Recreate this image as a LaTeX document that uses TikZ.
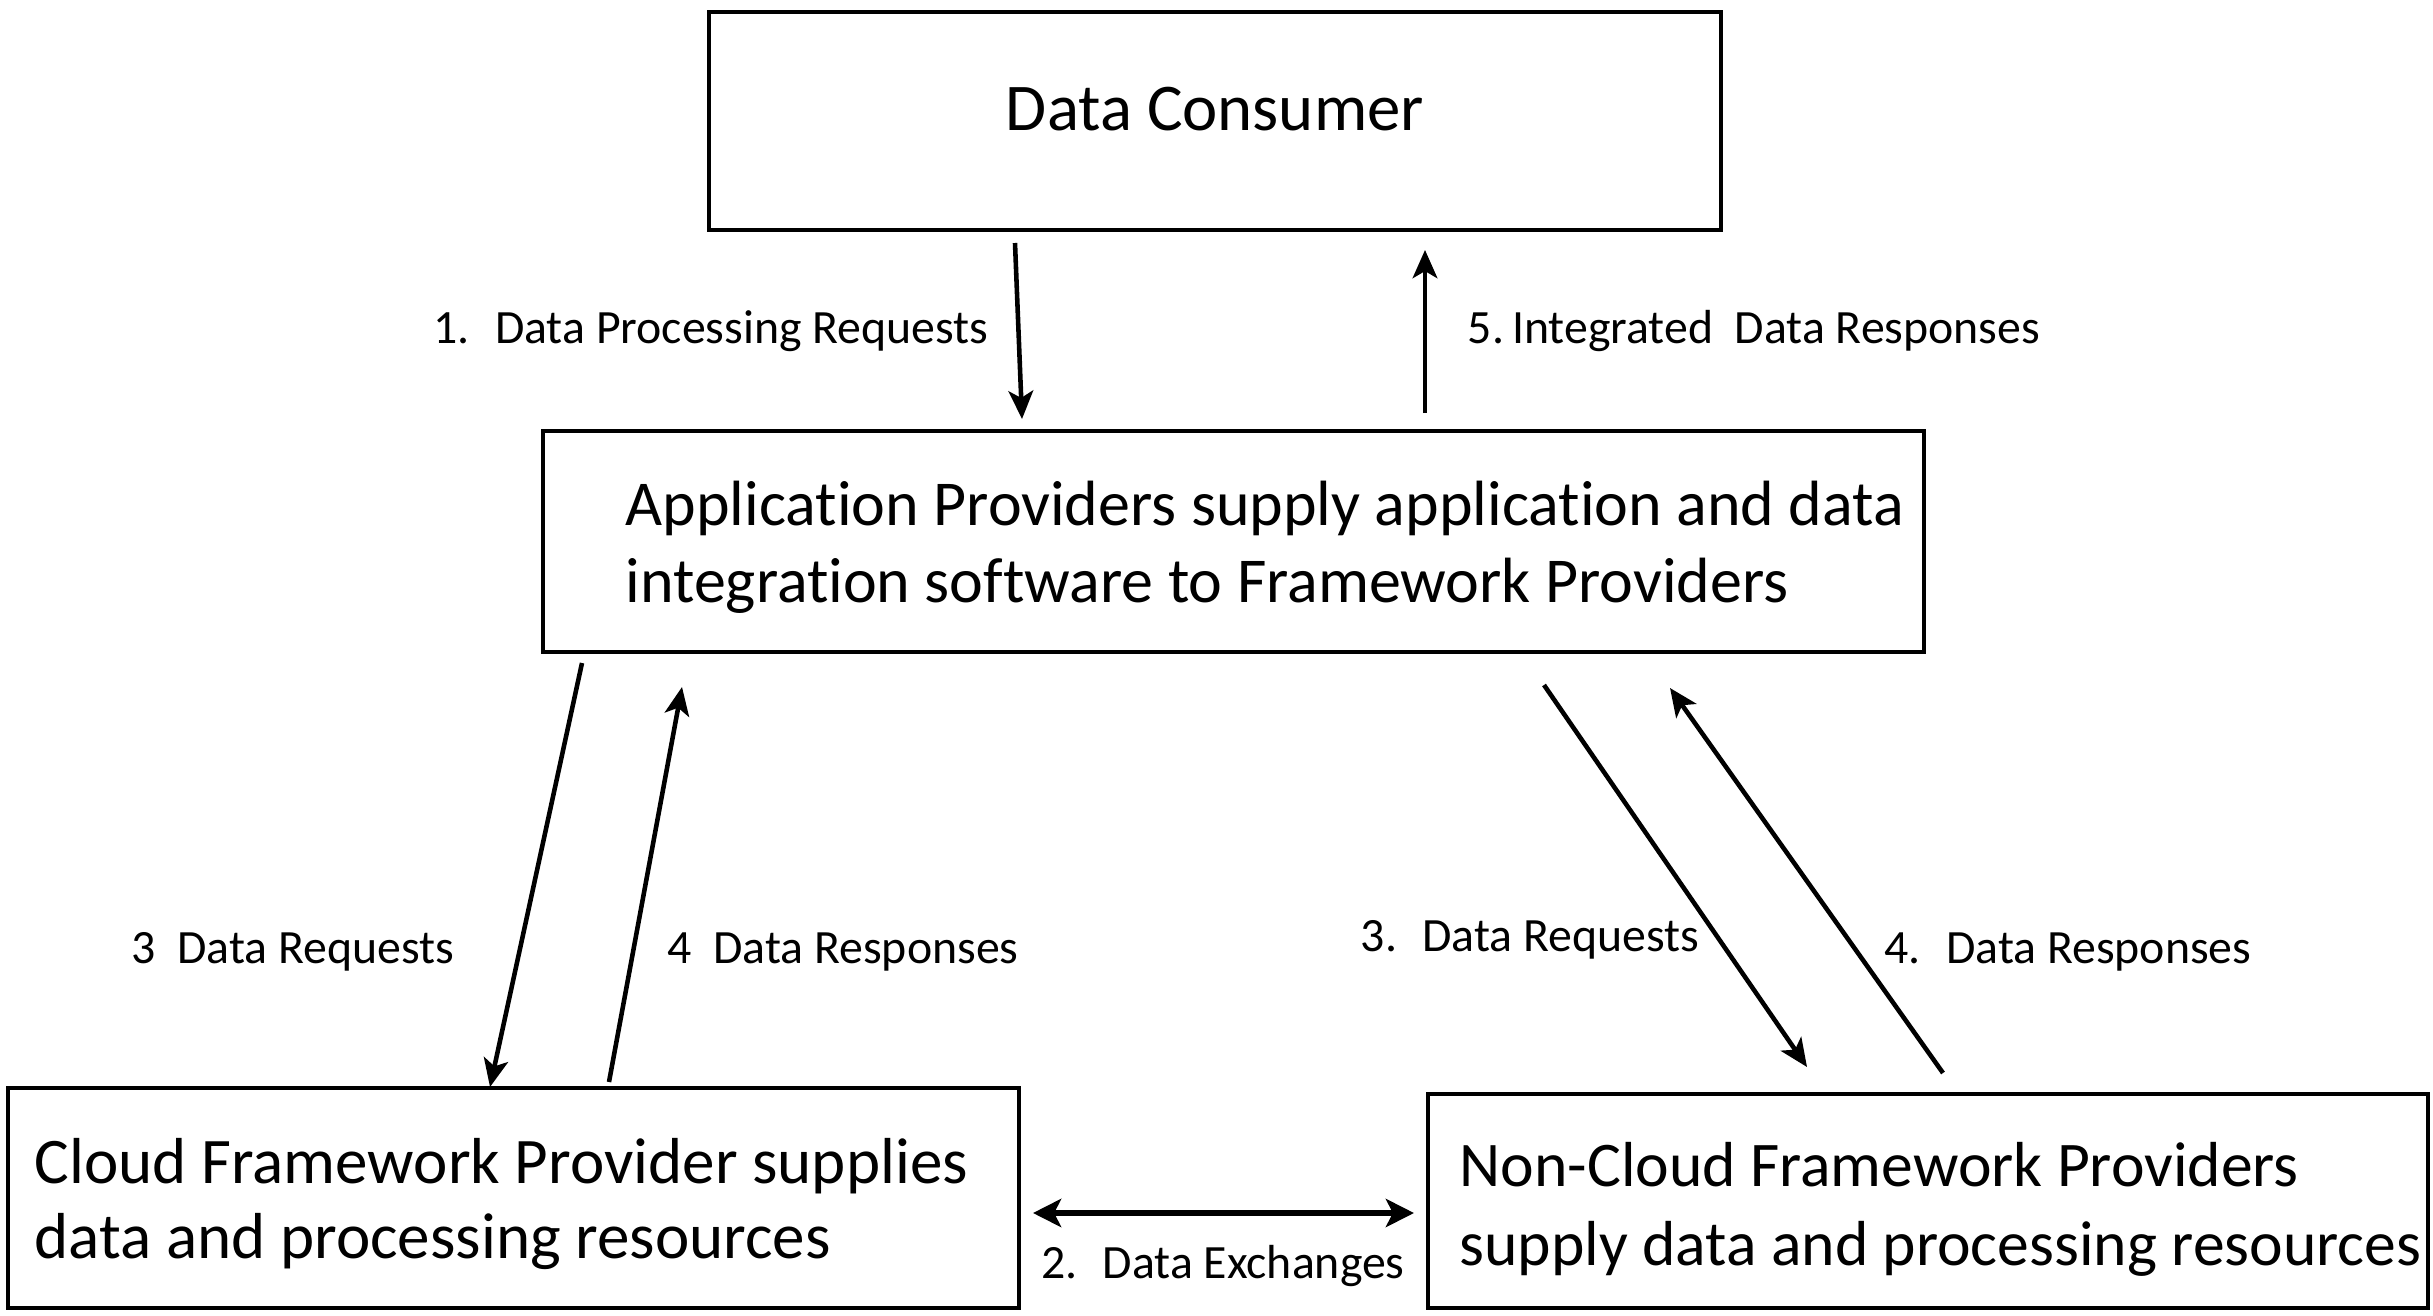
\documentclass[tikz,border=0pt]{standalone}
\usepackage{fontspec}
\setmainfont{Carlito}[RawFeature=-liga]
\usetikzlibrary{arrows.meta}

\begin{document}
\begin{tikzpicture}

    % styles
    \tikzstyle{box} = [draw=black,line width=1.3pt,inner sep=0pt]
    \tikzstyle{boxtxt} = [anchor=west,inner sep=0pt,align=left,
        font=\fontsize{18.2}{21.8}\selectfont]
    \tikzstyle{trans} = [draw=black,line width=1.3pt,
        -{Stealth[length=8pt,width=7pt,inset=2pt]}]
    \tikzstyle{exch} = [trans,line width=1.6pt,
        {Stealth[length=8pt,width=8pt,inset=2pt]}-{Stealth[length=8pt,width=8pt,inset=2pt]}]
    \tikzstyle{lbl} = [anchor=base,inner sep=0pt,font=\fontsize{13.6}{16}\selectfont]

    \useasboundingbox (0,0) rectangle (24.33,13.15);

    % boxes
    \node[box,minimum width=10.12cm,minimum height=2.18cm,text depth=0.25cm,
        font=\fontsize{19}{22}\selectfont] (consumer) at (12.15,11.94)
        {Data Consumer};
    \node[box,minimum width=13.81cm,minimum height=2.21cm] (app) at (12.335,7.735) {};
    \node[boxtxt] (appTxt) at (6.25,7.675)
        {Application Providers supply application and data\\
         integration software to Framework Providers};
    \node[box,minimum width=10.11cm,minimum height=2.20cm] (cloud) at (5.135,1.17) {};
    \node[boxtxt,font=\fontsize{18.5}{21.6}\selectfont] (cloudTxt) at (0.34,1.11)
        {Cloud Framework Provider supplies\\
         data and processing resources};
    \node[box,minimum width=10.00cm,minimum height=2.14cm] (noncloud) at (19.28,1.14) {};
    \node[boxtxt,font=\fontsize{18.1}{22.3}\selectfont] (noncloudTxt) at (14.59,1.055)
        {Non-Cloud Framework Providers\\
         supply data and processing resources};

    % arrow ends
    \coordinate (procA) at (10.15,10.72);
    \coordinate (procB) at (10.22,8.96);
    \coordinate (integA) at (14.25,9.02);
    \coordinate (integB) at (14.25,10.65);
    \coordinate (cReqA) at (5.82,6.52);
    \coordinate (cReqB) at (4.90,2.28);
    \coordinate (cRespA) at (6.09,2.33);
    \coordinate (cRespB) at (6.82,6.28);
    \coordinate (nReqA) at (15.44,6.30);
    \coordinate (nReqB) at (18.07,2.48);
    \coordinate (nRespA) at (19.43,2.42);
    \coordinate (nRespB) at (16.70,6.27);
    \coordinate (exA) at (10.33,1.02);
    \coordinate (exB) at (14.14,1.02);

    % consumer <-> application
    \path[trans] (procA) -- (procB);
    \path[trans] (integA) -- (integB);
    \node[lbl] (procLbl) at (7.11,9.72) {1.~ Data Processing Requests};
    \node[lbl] (integLbl) at (17.54,9.72) {5.\,Integrated~ Data Responses};

    % cloud
    \path[trans] (cReqA) -- (cReqB);
    \path[trans] (cRespA) -- (cRespB);
    \node[lbl] (cReqLbl) at (2.93,3.52) {3~ Data Requests};
    \node[lbl] (cRespLbl) at (8.43,3.52) {4~ Data Responses};

    % non-cloud
    \path[trans] (nReqA) -- (nReqB);
    \path[trans] (nRespA) -- (nRespB);
    \node[lbl] (nReqLbl) at (15.30,3.64) {3.~ Data Requests};
    \node[lbl] (nRespLbl) at (20.68,3.52) {4.~ Data Responses};

    % exchanges
    \path[exch] (exA) -- (exB);
    \node[lbl] (exLbl) at (12.23,0.37) {2.~ Data Exchanges};
\end{tikzpicture}
\end{document}
